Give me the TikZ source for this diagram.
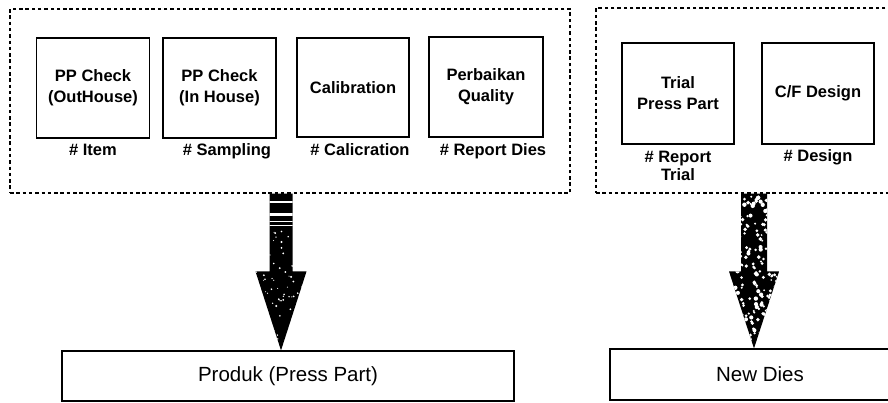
\documentclass[tikz,border=0pt]{standalone}
\usepackage{fontspec}
\setmainfont{Liberation Sans}
\usetikzlibrary{calc}

% outline of a thick block arrow: top centre, tip, shaft half width, head half width, head length
\newcommand{\blockarrow}[5]{($(#1)+(-#3,0)$) -- ($(#2)+(-#3,-#5)$) -- ($(#2)+(-#4,-#5)$) -- (#2) -- ($(#2)+(#4,-#5)$) -- ($(#2)+(#3,-#5)$) -- ($(#1)+(#3,0)$) -- cycle}

\begin{document}
\begin{tikzpicture}[x=1pt,y=-1pt,
  group/.style={draw, line width=1.5pt, dash pattern=on 3.5pt off 2.8pt,
    inner sep=0pt},
  proc/.style={draw, line width=1.3pt, minimum width=113pt, minimum height=100pt,
    inner sep=0pt, align=center, font=\bfseries\fontsize{16.5}{21}\selectfont},
  tagtext/.style={inner sep=0pt, align=center,
    font=\bfseries\fontsize{16.5}{18}\selectfont},
  tag/.style={tagtext, text height=11pt, text depth=3pt},
  target/.style={draw, line width=1.1pt, minimum height=50pt, inner sep=0pt,
    font=\fontsize{20.5}{22}\selectfont},
  speck/.style={fill=white}
]
\useasboundingbox (0,0) rectangle (888,403);
\clip (0,0) rectangle (888,403);

% dashed groups
\node[group, minimum width=560pt, minimum height=184pt] (groupL) at (290,101) {};
\node[group, minimum width=364pt, minimum height=185pt] (groupR) at (778,100.5) {};

% process boxes of the first group
\node[proc] (ppout) at (93,88) {PP Check\\(OutHouse)};
\node[proc] (ppin) at (219.5,88) {PP Check\\(In House)};
\node[proc, minimum width=112pt, minimum height=99pt] (calib) at (353,87.5) {Calibration};
\node[proc, minimum width=114pt] (perb) at (486,87) {Perbaikan\\Quality};

\node[tag] (tItem) at (93,152) {\# Item};
\node[tag] (tSamp) at (227,152) {\# Sampling};
\node[tag] (tCal) at (360,152) {\# Calicration};
\node[tag] (tRep) at (493,152) {\# Report Dies};

% process boxes of the second group
\node[proc, minimum width=112pt, minimum height=101pt] (trial) at (678,93.5) {Trial\\Press Part};
\node[proc, minimum width=112pt, minimum height=101pt] (cfd) at (818,93.5) {C/F Design};

\node[tagtext] (tTrial) at (678,166) {\# Report\\Trial};
\node[tag] (tDes) at (818,158) {\# Design};

% outputs
\node[target, minimum width=452pt] (prod) at (288,376) {Produk (Press Part)};
\node[target, minimum width=300pt, minimum height=51pt] (dies) at (760,374.5) {New Dies};

% arrow from the first group to its output
\coordinate (axL) at (281,0);
\coordinate (aL) at (axL |- groupL.south);
\coordinate (tipL) at (axL |- prod.north);
\fill[black] \blockarrow{aL}{tipL}{11.5}{25.5}{79};
\begin{scope}
  \clip \blockarrow{aL}{tipL}{11.5}{25.5}{79};
  \fill[speck] (260,201) rectangle (300,202.6);
  \fill[speck] (260,213.5) rectangle (300,216.5);
  \fill[speck] (260,221.5) rectangle (300,222.5);
  \fill[speck] (260,225) rectangle (300,225.8);
  \pgfmathsetseed{41}
  \foreach \i in {1,...,70}{
    \pgfmathsetmacro{\px}{256+50*rnd}
    \pgfmathsetmacro{\py}{228+115*rnd}
    \pgfmathsetmacro{\pr}{0.5+0.6*rnd}
    \fill[speck] (\px,\py) circle (\pr);
  }
\end{scope}

% arrow from the second group to its output
\coordinate (axR) at (754,0);
\coordinate (aR) at (axR |- groupR.south);
\coordinate (tipR) at (axR |- dies.north);
\fill[black] \blockarrow{aR}{tipR}{13}{25}{77};
\begin{scope}
  \clip \blockarrow{aR}{tipR}{13}{25}{77};
  \pgfmathsetseed{17}
  \foreach \i in {1,...,230}{
    \pgfmathsetmacro{\px}{729+50*rnd}
    \pgfmathsetmacro{\py}{194+150*rnd}
    \pgfmathsetmacro{\pr}{0.9+1.3*rnd}
    \fill[speck] (\px,\py) circle (\pr);
  }
\end{scope}
\end{tikzpicture}
\end{document}
